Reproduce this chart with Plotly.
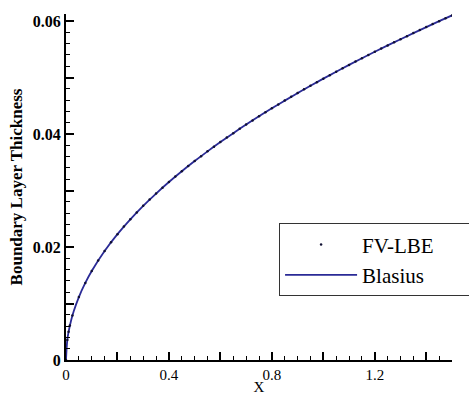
import plotly.graph_objects as go

# FV-LBE simulation points
lbe_x = [0.0, 0.005, 0.01, 0.015, 0.025, 0.05, 0.075, 0.1, 0.125, 0.15, 0.175, 0.2, 0.225, 0.25,
         0.275, 0.3, 0.325, 0.35, 0.375, 0.4, 0.425, 0.45, 0.475, 0.5, 0.525, 0.55, 0.575,
         0.6, 0.625, 0.65, 0.675, 0.7, 0.725, 0.75, 0.775, 0.8, 0.825, 0.85, 0.875, 0.9,
         0.925, 0.95, 0.975, 1.0, 1.025, 1.05, 1.075, 1.1, 1.125, 1.15, 1.175, 1.2, 1.225,
         1.25, 1.275, 1.3, 1.325, 1.35, 1.375, 1.4, 1.425, 1.45, 1.475, 1.5]
lbe_y = [0.0, 0.00352, 0.00498, 0.0061, 0.00787, 0.01114, 0.01364, 0.01575, 0.01761, 0.01929,
         0.02083, 0.02227, 0.02362, 0.0249, 0.02612, 0.02728, 0.02839, 0.02946, 0.0305, 0.0315,
         0.03247, 0.03341, 0.03432, 0.03521, 0.03608, 0.03693, 0.03776, 0.03857, 0.03937,
         0.04015, 0.04092, 0.04167, 0.0424, 0.04313, 0.04384, 0.04454, 0.04523, 0.04591,
         0.04658, 0.04724, 0.0479, 0.04854, 0.04917, 0.0498, 0.05042, 0.05103, 0.05163,
         0.05223, 0.05282, 0.0534, 0.05398, 0.05455, 0.05512, 0.05568, 0.05623, 0.05678,
         0.05732, 0.05786, 0.0584, 0.05892, 0.05945, 0.05997, 0.06048, 0.06099]

# Blasius solution curve
bl_x = [0.0, 0.005, 0.01, 0.02, 0.03, 0.05, 0.075, 0.1, 0.15, 0.2, 0.25, 0.3, 0.35, 0.4, 0.45,
        0.5, 0.55, 0.6, 0.65, 0.7, 0.75, 0.8, 0.85, 0.9, 0.95, 1.0, 1.05, 1.1, 1.15, 1.2,
        1.25, 1.3, 1.35, 1.4, 1.45, 1.5]
bl_y = [0.0, 0.00352, 0.00498, 0.00704, 0.00863, 0.01114, 0.01364, 0.01575, 0.01929, 0.02227,
        0.0249, 0.02728, 0.02946, 0.0315, 0.03341, 0.03521, 0.03693, 0.03857, 0.04015,
        0.04167, 0.04313, 0.04454, 0.04591, 0.04724, 0.04854, 0.0498, 0.05103, 0.05223,
        0.0534, 0.05455, 0.05568, 0.05678, 0.05786, 0.05892, 0.05997, 0.06099]

x_tickvals = [0, 0.2, 0.4, 0.6, 0.8, 1.0, 1.2, 1.4]
x_ticktext = ["0", "", "0.4", "", "0.8", "", "1.2", ""]
y_tickvals = [0, 0.01, 0.02, 0.03, 0.04, 0.05, 0.06]
y_ticktext = ["0", "", "0.02", "", "0.04", "", "0.06"]

serif = "Liberation Serif"
pad = "\u00a0" * 7

fig = go.Figure()
fig.add_trace(go.Scatter(x=bl_x, y=bl_y, mode="lines", name="Blasius" + pad,
                         line=dict(color="#2a2a96", width=1.8, shape="spline")))
fig.add_trace(go.Scatter(x=lbe_x, y=lbe_y, mode="markers", name="FV-LBE" + pad,
                         marker=dict(color="#111133", size=2.5, symbol="circle")))

fig.update_layout(
    width=469, height=395,
    margin=dict(l=66, r=17, t=14, b=35, autoexpand=False),
    paper_bgcolor="white", plot_bgcolor="white",
    font=dict(family=serif, color="black"),
    showlegend=True,
    legend=dict(x=0.552, y=0.395, xanchor="left", yanchor="top",
                bordercolor="#333333", borderwidth=1, bgcolor="white",
                font=dict(family=serif, size=21, color="black"),
                traceorder="reversed", itemwidth=72),
    xaxis=dict(range=[0, 1.5], tickvals=x_tickvals, ticktext=x_ticktext,
               ticks="inside", ticklen=8, tickwidth=1.5, tickcolor="black",
               showline=True, linecolor="black", linewidth=2,
               showgrid=False, zeroline=False, automargin=False,
               tickfont=dict(family=serif, size=15, color="black"),
               minor=dict(dtick=0.05, tick0=0, ticks="inside", ticklen=4,
                          tickwidth=1, tickcolor="black", showgrid=False),
               title=dict(text="X", font=dict(family=serif, size=15), standoff=0)),
    yaxis=dict(range=[0, 0.06124], tickvals=y_tickvals, ticktext=y_ticktext,
               ticks="inside", ticklen=8, tickwidth=1.5, tickcolor="black",
               showline=True, linecolor="black", linewidth=2,
               showgrid=False, zeroline=False, automargin=False,
               tickfont=dict(family=serif, size=16, color="black", weight="bold"),
               minor=dict(dtick=0.002, tick0=0, ticks="inside", ticklen=4,
                          tickwidth=1, tickcolor="black", showgrid=False),
               title=dict(text="Boundary Layer Thickness",
                          font=dict(family=serif, size=17, weight="bold"), standoff=6)),
)

fig.write_html("out.html", config={"displayModeBar": False},
               post_script="document.body.style.margin='0';")
